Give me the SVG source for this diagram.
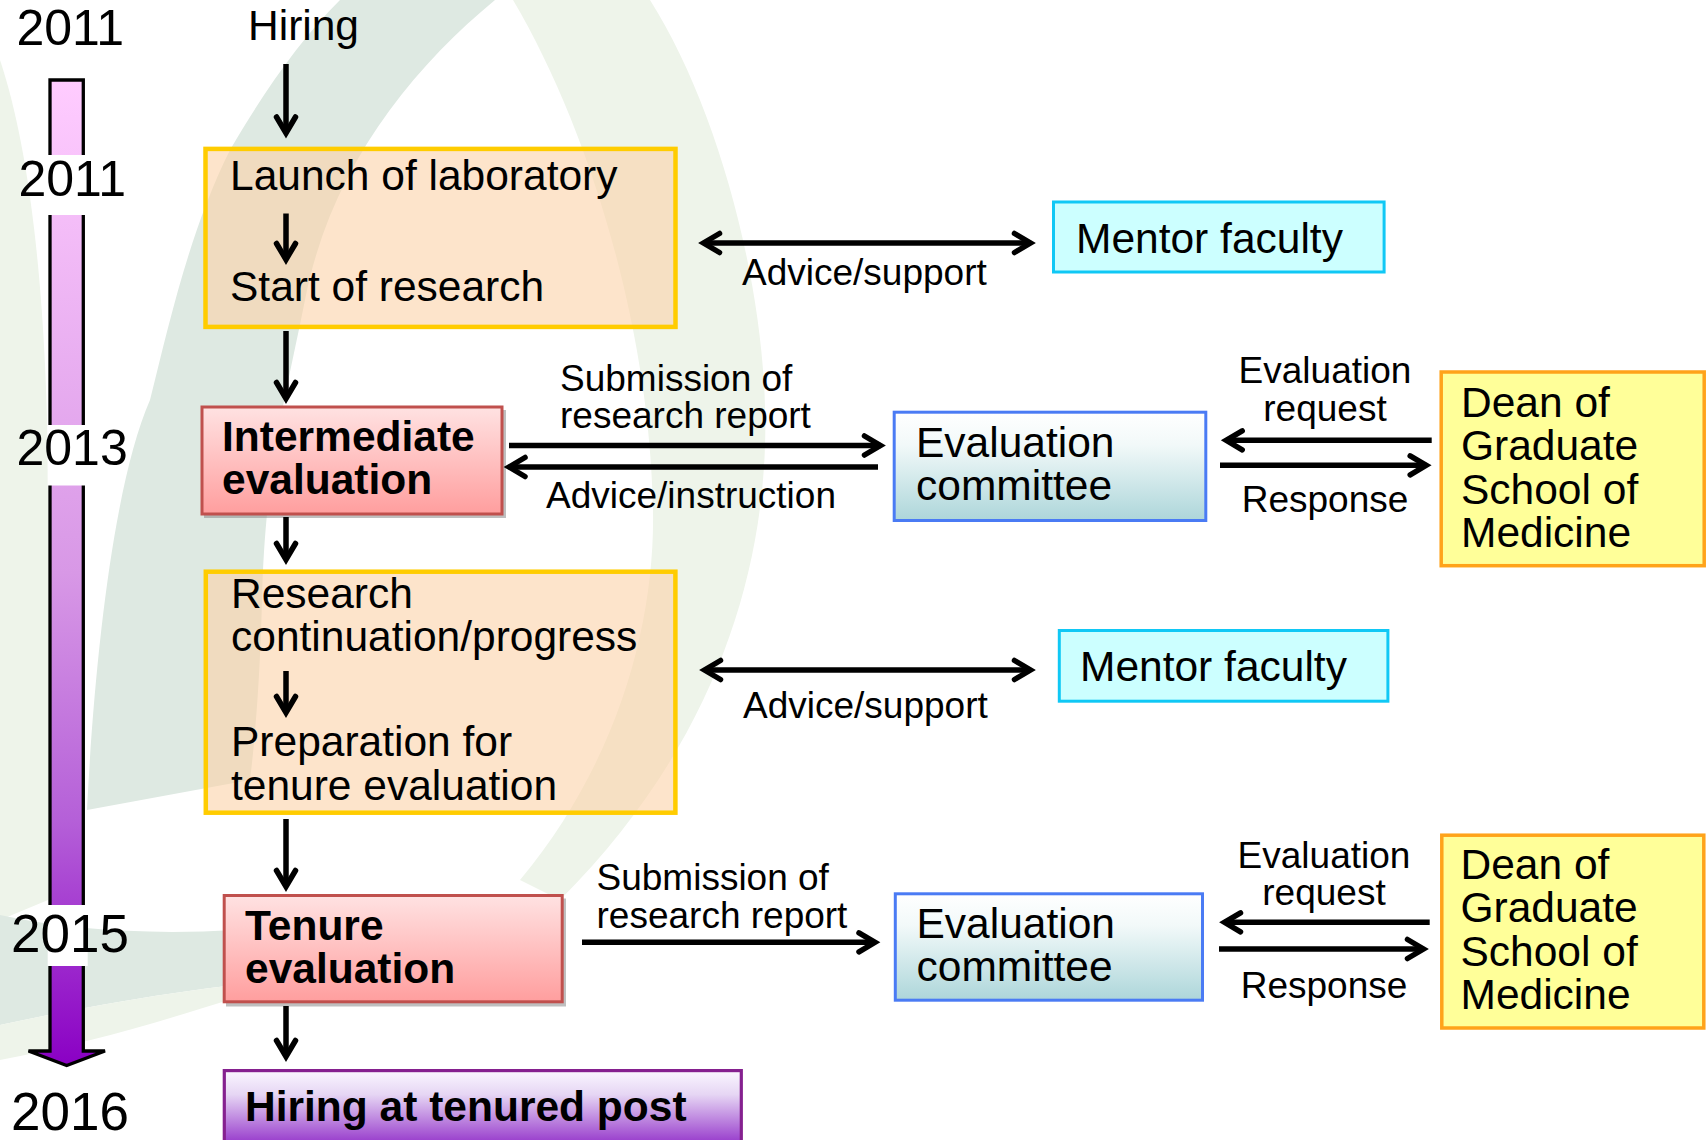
<svg xmlns="http://www.w3.org/2000/svg" width="1708" height="1140" viewBox="0 0 1708 1140">
<style>
text{font-family:"Liberation Sans",Arial,sans-serif;fill:#000}
.yr{font-size:50px}
.yr2{font-size:53px}
.t{font-size:42.5px}
.b{font-size:42.5px;font-weight:bold}
.l{font-size:37px}
.c{text-anchor:middle}
.ln{stroke:#000;stroke-width:5.5;fill:none}
.tan{fill:#FBD2A9;fill-opacity:0.6;stroke:#FFCC00;stroke-width:4.5}
.red{fill:url(#gRed);stroke:#C0504D;stroke-width:3}
.mentor{fill:#CCFFFF;stroke:#10C8F5;stroke-width:3}
.evc{fill:url(#gEval);stroke:#4A7BF4;stroke-width:3}
.dean{fill:#FFFF99;stroke:#FFA31A;stroke-width:3.5}
.wm1{fill:#DEE9E2}
.wm2{fill:#EEF4EA}
.shadow{fill:#8A8A8A;fill-opacity:0.55}
</style>
<defs>
<marker id="ah" markerUnits="userSpaceOnUse" viewBox="-30 -16 34 32" markerWidth="34" markerHeight="32" refX="-5" refY="0" orient="auto-start-reverse">
<path d="M -21,-9.5 L -5,0 L -21,9.5" fill="none" stroke="#000" stroke-width="5.5" stroke-linecap="round" stroke-linejoin="miter"/>
</marker>
<linearGradient id="gBar" gradientUnits="userSpaceOnUse" x1="0" y1="80" x2="0" y2="1066">
<stop offset="0" stop-color="#FFCCFF"/>
<stop offset="0.5" stop-color="#D898E6"/>
<stop offset="0.75" stop-color="#B560D8"/>
<stop offset="1" stop-color="#8A00C4"/>
</linearGradient>
<linearGradient id="gRed" x1="0" y1="0" x2="0" y2="1">
<stop offset="0" stop-color="#FFE2E2"/>
<stop offset="1" stop-color="#FF9E9E"/>
</linearGradient>
<linearGradient id="gEval" x1="0" y1="0" x2="0" y2="1">
<stop offset="0" stop-color="#FFFFFF"/>
<stop offset="0.3" stop-color="#F2F9F9"/>
<stop offset="1" stop-color="#ADD6DA"/>
</linearGradient>
<linearGradient id="gPur" gradientUnits="userSpaceOnUse" x1="0" y1="1070" x2="0" y2="1140">
<stop offset="0" stop-color="#FBF8FF"/>
<stop offset="0.35" stop-color="#E6D6F4"/>
<stop offset="1" stop-color="#9C44CE"/>
</linearGradient>
</defs>

<rect x="0" y="0" width="1708" height="1140" fill="#FFFFFF"/>

<g id="watermark">
<path class="wm2" d="M 0,60 C 30,150 48,300 48,500 L 48,900 L 0,920 Z"/>
<path class="wm2" d="M 513,0 L 650,0 C 720,110 770,300 765,446 C 760,600 700,760 560,900 L 520,880 C 620,760 655,620 653,510 C 650,330 590,130 513,0 Z"/>
<path class="wm1" d="M 340,0 L 495,0 C 410,70 330,170 305,300 C 285,400 265,470 262,600 C 260,680 255,740 250,780 L 87,810 C 95,650 115,480 150,400 C 170,320 190,230 230,150 C 265,90 300,40 340,0 Z"/>
<path class="wm1" d="M 0,915 C 70,930 150,935 235,930 L 235,985 C 150,995 70,1010 0,1025 Z"/>
<path class="wm2" d="M 0,1025 C 70,1010 150,995 235,985 L 235,998 C 150,1025 80,1045 0,1060 Z"/>
</g>

<g id="timeline">
<path d="M50,80 L83.3,80 L83.3,1051 L105,1051 L66.7,1065.5 L28.5,1051 L50,1051 Z" fill="url(#gBar)" stroke="#000" stroke-width="3.3" stroke-linejoin="miter"/>
<rect x="47.7" y="155" width="40" height="60" fill="#FFFFFF"/>
<rect x="47.7" y="425" width="40" height="60.5" fill="#FFFFFF"/>
<rect x="47.7" y="905" width="40" height="61" fill="#FFFFFF"/>
<text class="yr" x="16.5" y="45">2011</text>
<text class="yr" x="18.5" y="196">2011</text>
<text class="yr" x="16.5" y="465">2013</text>
<text class="yr2" x="11" y="951.5">2015</text>
<text class="yr2" x="11" y="1130">2016</text>
</g>

<g id="node-launch">
<rect class="tan" x="205.5" y="148.9" width="470" height="178"/>
<text class="t" x="230" y="190">Launch of laboratory</text>
<text class="t" x="230" y="301">Start of research</text>
</g>

<g id="node-intermediate">
<rect class="shadow" x="204" y="410" width="302" height="108"/>
<rect class="red" x="202" y="407" width="300" height="107"/>
<text class="b" x="222" y="451">Intermediate</text>
<text class="b" x="222" y="494">evaluation</text>
</g>

<g id="node-research">
<rect class="tan" x="205.8" y="571.7" width="469.6" height="241"/>
<text class="t" x="231" y="608">Research</text>
<text class="t" x="231" y="651">continuation/progress</text>
<text class="t" x="231" y="756">Preparation for</text>
<text class="t" x="231" y="800">tenure evaluation</text>
</g>

<g id="node-tenure">
<rect class="shadow" x="226" y="898.5" width="340" height="108"/>
<rect class="red" x="224.2" y="895.5" width="338" height="106.3"/>
<text class="b" x="245" y="940">Tenure</text>
<text class="b" x="245" y="983">evaluation</text>
</g>

<g id="node-tenured-post">
<rect x="224.3" y="1070.6" width="517" height="90" fill="url(#gPur)" stroke="#85208F" stroke-width="3.2"/>
<text class="b" x="245" y="1121">Hiring at tenured post</text>
</g>

<g id="node-mentor-1">
<rect class="mentor" x="1053.5" y="202" width="330.6" height="70"/>
<text class="t" x="1076" y="253">Mentor faculty</text>
</g>

<g id="node-mentor-2">
<rect class="mentor" x="1059.3" y="630.5" width="328.6" height="70.7"/>
<text class="t" x="1080" y="681">Mentor faculty</text>
</g>

<g id="node-eval-1">
<rect class="evc" x="894.2" y="412.2" width="311.6" height="108.3"/>
<text class="t" x="916" y="456.5">Evaluation</text>
<text class="t" x="916" y="500">committee</text>
</g>

<g id="node-eval-2">
<rect class="evc" x="895.3" y="893.8" width="307.2" height="106.4"/>
<text class="t" x="916.5" y="937.5">Evaluation</text>
<text class="t" x="916.5" y="981">committee</text>
</g>

<g id="node-dean-1">
<rect class="dean" x="1441.2" y="372" width="263" height="193.7"/>
<text class="t" x="1461" y="417">Dean of</text>
<text class="t" x="1461" y="460">Graduate</text>
<text class="t" x="1461" y="503.5">School of</text>
<text class="t" x="1461" y="546.5">Medicine</text>
</g>

<g id="node-dean-2">
<rect class="dean" x="1441.8" y="835.2" width="262" height="192.8"/>
<text class="t" x="1460.5" y="878.5">Dean of</text>
<text class="t" x="1460.5" y="922">Graduate</text>
<text class="t" x="1460.5" y="965.5">School of</text>
<text class="t" x="1460.5" y="1009">Medicine</text>
</g>

<g id="connectors">
<line class="ln" x1="286" y1="64" x2="286" y2="133" marker-end="url(#ah)"/>
<line class="ln" x1="286" y1="213.5" x2="286" y2="259.5" marker-end="url(#ah)"/>
<line class="ln" x1="286" y1="331" x2="286" y2="398.5" marker-end="url(#ah)"/>
<line class="ln" x1="286" y1="517" x2="286" y2="559.5" marker-end="url(#ah)"/>
<line class="ln" x1="286" y1="671" x2="286" y2="712.5" marker-end="url(#ah)"/>
<line class="ln" x1="286" y1="819" x2="286" y2="886.5" marker-end="url(#ah)"/>
<line class="ln" x1="286" y1="1006" x2="286" y2="1056.5" marker-end="url(#ah)"/>
<line class="ln" x1="703.5" y1="243" x2="1030.5" y2="243" marker-start="url(#ah)" marker-end="url(#ah)"/>
<line class="ln" x1="704.5" y1="670" x2="1030.5" y2="670" marker-start="url(#ah)" marker-end="url(#ah)"/>
<line class="ln" x1="509" y1="445.5" x2="880.5" y2="445.5" marker-end="url(#ah)"/>
<line class="ln" x1="878" y1="467" x2="509" y2="467" marker-end="url(#ah)"/>
<line class="ln" x1="1431.7" y1="440.3" x2="1226.2" y2="440.3" marker-end="url(#ah)"/>
<line class="ln" x1="1220" y1="465.3" x2="1426.2" y2="465.3" marker-end="url(#ah)"/>
<line class="ln" x1="582" y1="942.3" x2="875" y2="942.3" marker-end="url(#ah)"/>
<line class="ln" x1="1429.7" y1="922.3" x2="1224.5" y2="922.3" marker-end="url(#ah)"/>
<line class="ln" x1="1219" y1="949" x2="1423.5" y2="949" marker-end="url(#ah)"/>
<text class="t" x="248" y="40">Hiring</text>
<text class="l" x="742" y="285">Advice/support</text>
<text class="l" x="743" y="718">Advice/support</text>
<text class="l" x="560" y="391">Submission of</text>
<text class="l" x="560" y="428">research report</text>
<text class="l" x="546" y="508">Advice/instruction</text>
<text class="l" x="596.5" y="890">Submission of</text>
<text class="l" x="596.5" y="928">research report</text>
<text class="l c" x="1325" y="383">Evaluation</text>
<text class="l c" x="1325" y="421">request</text>
<text class="l c" x="1325" y="511.5">Response</text>
<text class="l c" x="1324" y="868">Evaluation</text>
<text class="l c" x="1324" y="905">request</text>
<text class="l c" x="1324" y="998">Response</text>
</g>
</svg>
